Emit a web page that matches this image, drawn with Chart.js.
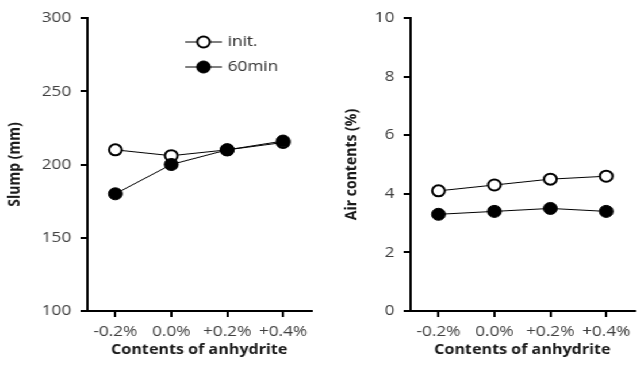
<!DOCTYPE html>
<html lang="en">
<head>
  <meta charset="UTF-8" />
  <title>Slump and Air Contents vs Anhydrite</title>
  <script src="https://cdn.jsdelivr.net/npm/chart.js"></script>
  <style>
    body {
      margin: 0;
      background: #fff;
    }

    #wrap {
      width: 559px;
      height: 368px;
      display: flex;
      /* the source figure is a little wider than tall, stretch it like that */
      transform: scaleX(1.15);
      transform-origin: 0 0;
    }
  </style>
</head>
<body>

  <div id="wrap">
    <canvas id="slumpChart" width="278" height="368"></canvas>
    <canvas id="airChart" width="281" height="368"></canvas>
  </div>

  <script>
    const categories = ['-0.2%', '0.0%', '+0.2%', '+0.4%'];
    const seriesNames = ['init.', '60min'];

    const slumpInit = [210, 206, 210, 215];
    const slump60 = [180, 200, 210, 216];
    const slumpRange = [100, 300, 50];   // min, max, step

    const airInit = [4.1, 4.3, 4.5, 4.6];
    const air60 = [3.3, 3.4, 3.5, 3.4];
    const airRange = [0, 10, 2];

    const tickFont = { family: "'Open Sans', sans-serif", size: 15 };
    const titleFont = { family: "'Open Sans', sans-serif", size: 14, weight: 'bold' };

    function makeDatasets(initData, minData) {
      return [
        {
          label: seriesNames[0],
          data: initData,
          borderColor: '#000',
          borderWidth: 1,
          pointRadius: 5.5,
          pointBorderWidth: 2,
          pointBackgroundColor: '#fff',
          pointBorderColor: '#000',
          order: 2
        },
        {
          label: seriesNames[1],
          data: minData,
          borderColor: '#000',
          borderWidth: 1,
          pointRadius: 6,
          pointBorderWidth: 1,
          pointBackgroundColor: '#000',
          pointBorderColor: '#000',
          order: 1
        }
      ];
    }

    // legend drawn inside the plot, line with marker like the source figure
    const innerLegend = {
      id: 'innerLegend',
      afterDatasetsDraw(chart) {
        const ctx = chart.ctx;
        const rows = [42, 67];
        ctx.save();
        chart.data.datasets.forEach((ds, i) => {
          const y = rows[i];
          ctx.strokeStyle = '#000';
          ctx.lineWidth = 1;
          ctx.beginPath();
          ctx.moveTo(161, y);
          ctx.lineTo(193, y);
          ctx.stroke();
          ctx.beginPath();
          ctx.arc(177, y, ds.pointRadius, 0, Math.PI * 2);
          ctx.fillStyle = ds.pointBackgroundColor;
          ctx.fill();
          ctx.lineWidth = ds.pointBorderWidth;
          ctx.stroke();
          ctx.fillStyle = '#333';
          ctx.font = "15px 'Open Sans', sans-serif";
          ctx.textBaseline = 'middle';
          ctx.textAlign = 'left';
          ctx.fillText(ds.label, 198, y);
        });
        ctx.restore();
      }
    };

    function makeOptions(range, yTitle, yWidth, titlePad, padRight) {
      return {
        responsive: false,
        animation: false,
        layout: { padding: { top: 18, right: padRight, bottom: 0, left: 0 } },
        plugins: {
          legend: { display: false },
          tooltip: { enabled: false }
        },
        scales: {
          x: {
            offset: true,
            afterFit: s => { s.height = 57; },
            grid: {
              offset: false,
              drawOnChartArea: false,
              drawTicks: true,
              tickLength: 6,
              color: '#000',
              lineWidth: 2
            },
            border: { display: true, color: '#000', width: 2 },
            ticks: { color: '#404040', font: tickFont, padding: 6 },
            title: {
              display: true,
              text: 'Contents of anhydrite',
              color: '#1a1a1a',
              font: titleFont,
              padding: { top: 0, bottom: 10 }
            }
          },
          y: {
            min: range[0],
            max: range[1],
            afterFit: s => { s.width = yWidth; },
            grid: {
              drawOnChartArea: false,
              drawTicks: true,
              tickLength: 6,
              color: '#000',
              lineWidth: 2
            },
            border: { display: true, color: '#000', width: 2 },
            ticks: { stepSize: range[2], color: '#404040', font: tickFont, padding: 8 },
            title: {
              display: true,
              text: yTitle,
              color: '#1a1a1a',
              font: titleFont,
              padding: { top: titlePad, bottom: 0 }
            }
          }
        }
      };
    }

    new Chart(document.getElementById('slumpChart'), {
      type: 'line',
      data: { labels: categories, datasets: makeDatasets(slumpInit, slump60) },
      options: makeOptions(slumpRange, 'Slump (mm)', 76, 5, 4),
      plugins: [innerLegend]
    });

    new Chart(document.getElementById('airChart'), {
      type: 'line',
      data: { labels: categories, datasets: makeDatasets(airInit, air60) },
      options: makeOptions(airRange, 'Air contents (%)', 79, 20, 1)
    });
  </script>

</body>
</html>
